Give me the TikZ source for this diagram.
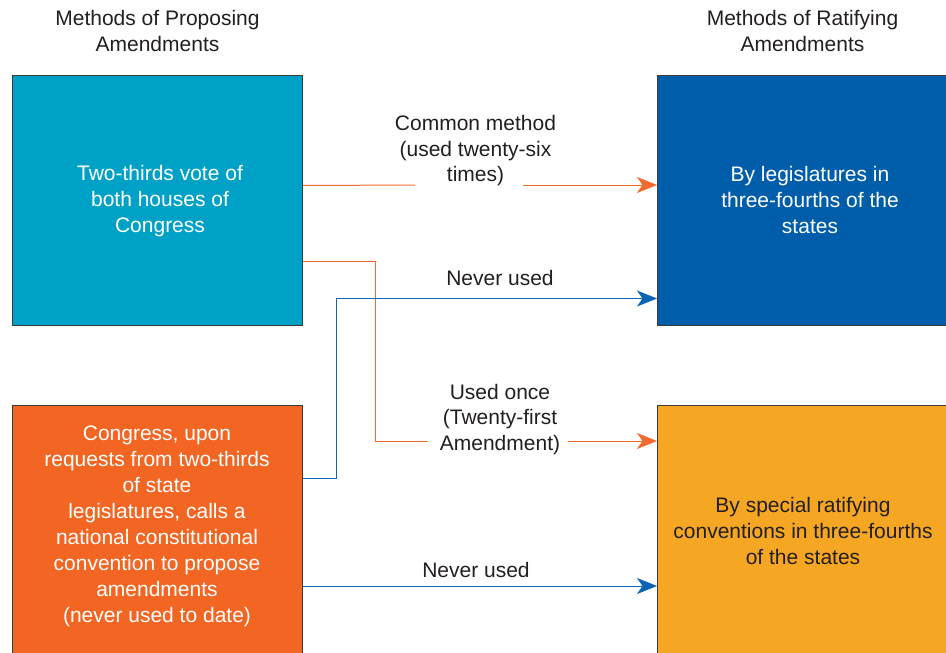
\documentclass[tikz,border=0pt]{standalone}
\usepackage{fontspec}
\setmainfont{Liberation Sans}
\usetikzlibrary{arrows.meta}
\definecolor{tealbox}{HTML}{00A1C6}
\definecolor{bluebox}{HTML}{005DAA}
\definecolor{orangebox}{HTML}{F26522}
\definecolor{yellowbox}{HTML}{F5A623}
\definecolor{orangeline}{HTML}{F26A2E}
\definecolor{blueline}{HTML}{0B64B4}
\definecolor{darktext}{HTML}{231F20}
\definecolor{boxedge}{HTML}{3A3A3A}
\tikzset{
  methodbox/.style={draw=boxedge, line width=1pt, inner sep=0pt, anchor=north west},
  boxtext/.style={align=center, inner sep=0pt, font=\fontsize{21}{26}\selectfont},
  lbl/.style={align=center, inner sep=0pt, text=darktext, font=\fontsize{21}{25.5}\selectfont},
  oline/.style={draw=orangeline, line width=1pt},
  bline/.style={draw=blueline, line width=1pt},
  tip/.style={-{Stealth[length=20pt,width=16pt,inset=5.5pt]}}
}
\begin{document}
\begin{tikzpicture}[x=1pt,y=-1pt]
\clip (0,0) rectangle (946,653);
\fill[white] (0,0) rectangle (946,653);
% headings
\node[lbl] (h1) at (157.5,31) {Methods of Proposing\\Amendments};
\node[lbl] (h2) at (802.5,31) {Methods of Ratifying\\Amendments};
% boxes
\node[methodbox, fill=tealbox, minimum width=290pt, minimum height=250pt] (A) at (12,75) {};
\node[methodbox, fill=bluebox, minimum width=340pt, minimum height=250pt] (B) at (657,75) {};
\node[methodbox, fill=orangebox, minimum width=290pt, minimum height=300pt] (C) at (12,405) {};
\node[methodbox, fill=yellowbox, minimum width=340pt, minimum height=300pt] (D) at (657,405) {};
% box texts
\node[boxtext, text=white] (At) at (160,201) {Two-thirds vote of\\both houses of\\Congress};
\node[boxtext, text=white] (Bt) at (810,200) {By legislatures in\\three-fourths of the\\states};
\node[boxtext, text=white] (Ct) at (157,526) {Congress, upon\\requests from two-thirds\\of state\\legislatures, calls a\\national constitutional\\convention to propose\\amendments\\(never used to date)};
\node[boxtext, text=darktext] (Dt) at (803,531) {By special ratifying\\conventions in three-fourths\\of the states};
% labels
\node[lbl] (l1) at (475.5,151) {Common method\\(used twenty-six\\times)};
\node[lbl] (l2) at (500,277.5) {Never used};
\node[lbl] (l3) at (500,419.5) {Used once\\(Twenty-first\\Amendment)};
\node[lbl] (l4) at (476,570) {Never used};
% gap coordinates
\coordinate (g1a) at (415,185);
\coordinate (g1b) at (523,185);
\coordinate (g2a) at (428,441);
\coordinate (g2b) at (568,441);
% connectors
\draw[oline] ([yshift=15pt]A.east) -- (g1a);
\draw[oline, tip] (g1b) -- (g1b -| B.west);
\draw[oline] ([yshift=-61pt]A.east) -- ++(72,0) |- (g2a);
\draw[oline, tip] (g2b) -- (g2b -| D.west);
\draw[bline, tip] ([yshift=-73pt]C.north east) -- ++(33,0) |- ([yshift=-98pt]B.west);
\draw[bline, tip] ([yshift=-181pt]C.north east) -- ([yshift=-181pt]D.north west);
\end{tikzpicture}
\end{document}
